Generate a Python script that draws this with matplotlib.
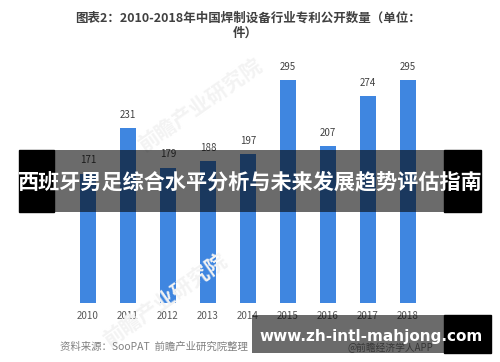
import matplotlib
matplotlib.use("Agg")
import matplotlib.pyplot as plt
from matplotlib.patches import Rectangle

plt.rcParams['font.family'] = ['Noto Sans CJK SC', 'DejaVu Sans']

years = ["2010", "2011", "2012", "2013", "2014", "2015", "2016", "2017", "2018"]
values = [171, 231, 179, 188, 197, 295, 207, 274, 295]

title_line1 = "图表2：2010-2018年中国焊制设备行业专利公开数量（单位："
title_line2 = "件）"
source_text = "资料来源：SooPAT  前瞻产业研究院整理"
app_text = "@前瞻经济学人APP"
banner_text = "西班牙男足综合水平分析与未来发展趋势评估指南"
url_text = "www.zh-intl-mahjong.com"

W, H = 500, 362
fig = plt.figure(figsize=(W / 100, H / 100), dpi=100)
fig.patch.set_facecolor("white")

def fx(px):
    return px / W

def fy(py):
    return 1 - py / H

# axes: bar baseline at y=303px, top at y=60px; x from 48 to 448 px
ax = fig.add_axes([fx(48), fy(303), fx(400), (303 - 60) / H])
x = list(range(len(years)))
ax.bar(x, values, width=0.42, color="#3f86e0", zorder=2)
ax.set_xlim(-1, len(years))
ax.set_ylim(0, 321.4)
ax.patch.set_alpha(0)
for s in ax.spines.values():
    s.set_visible(False)
ax.set_yticks([])
ax.set_xticks(x)
ax.set_xticklabels(years, fontsize=7, color="#595959")
ax.tick_params(axis="x", length=0, pad=6)
for xi, v in zip(x, values):
    ax.annotate(str(v), (xi, v), xytext=(0, 6), textcoords="offset points",
                ha="center", va="bottom", fontsize=7, color="#404040")

# faint diagonal watermarks
for (px, py) in [(200, 105), (165, 300)]:
    fig.text(fx(px), fy(py), "前瞻产业研究院", fontsize=15, color="#f3f3f3",
             rotation=35, ha="center", va="center", fontweight="bold", zorder=0)

# title
fig.text(0.495, fy(18), title_line1, ha="center", va="center", fontsize=9,
         fontweight="bold", color="#404040")
fig.text(0.49, fy(33), title_line2, ha="center", va="center", fontsize=9,
         fontweight="bold", color="#404040")

# source
fig.text(fx(60), fy(347), source_text, ha="left", va="center", fontsize=7.5,
         style="italic", color="#808080")
fig.text(fx(348), fy(348), app_text, ha="left", va="center", fontsize=7,
         color="#808080")

# banner overlay
fig.patches.append(Rectangle((fx(19), fy(212)), fx(35), (212 - 150) / H,
                             transform=fig.transFigure, color="black", zorder=5))
fig.patches.append(Rectangle((fx(54), fy(212)), fx(390), (212 - 150) / H,
                             transform=fig.transFigure, color="black", alpha=0.58,
                             zorder=5, linewidth=0))
fig.patches.append(Rectangle((fx(444), fy(212)), fx(37), (212 - 150) / H,
                             transform=fig.transFigure, color="black", zorder=5))
fig.text(fx(250), fy(182), banner_text, ha="center", va="center", fontsize=15.2,
         fontweight="bold", color="white", zorder=6)

# url overlay
fig.patches.append(Rectangle((fx(252), fy(353)), fx(192), (353 - 315) / H,
                             transform=fig.transFigure, color="black", alpha=0.58,
                             zorder=5, linewidth=0))
fig.patches.append(Rectangle((fx(444), fy(353)), fx(47), (353 - 315) / H,
                             transform=fig.transFigure, color="black", zorder=5))
fig.text(fx(371), fy(336), url_text, ha="center", va="center", fontsize=11,
         fontweight="bold", color="white", family="DejaVu Sans", zorder=6)

fig.savefig("out.png", dpi=100)
